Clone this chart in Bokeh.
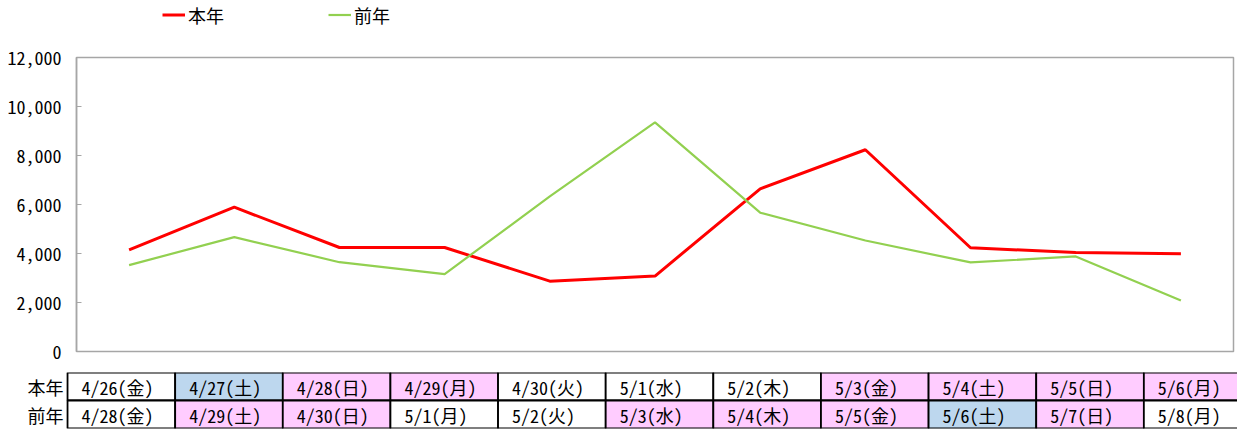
from bokeh.plotting import figure
from bokeh.models import (ColumnDataSource, FactorRange, Range1d, Legend, LegendItem,
                          NumeralTickFormatter, FixedTicker)
from bokeh.layouts import column
from bokeh.embed import file_html
from bokeh.resources import INLINE
from bokeh.core.properties import value

FONT = "'Noto Sans Mono CJK JP', 'Noto Sans CJK JP', sans-serif"

# ---- data ----
dates_this = ["4/26(金)", "4/27(土)", "4/28(日)", "4/29(月)", "4/30(火)", "5/1(水)",
              "5/2(木)", "5/3(金)", "5/4(土)", "5/5(日)", "5/6(月)"]
dates_prev = ["4/28(金)", "4/29(土)", "4/30(日)", "5/1(月)", "5/2(火)", "5/3(水)",
              "5/4(木)", "5/5(金)", "5/6(土)", "5/7(日)", "5/8(月)"]
this_year = [4150, 5890, 4245, 4245, 2870, 3080, 6640, 8235, 4235, 4040, 3990]
prev_year = [3525, 4670, 3645, 3160, 6330, 9350, 5665, 4530, 3635, 3880, 2080]
# day types: "w" weekday, "s" saturday, "h" holiday / sunday
type_this = ["w", "s", "h", "h", "w", "w", "w", "h", "h", "h", "h"]
type_prev = ["w", "h", "h", "w", "w", "h", "h", "h", "s", "h", "w"]
row_names = ["本年", "前年"]
series_names = ["本年", "前年"]
y_ticks = [0, 2000, 4000, 6000, 8000, 10000, 12000]

TYPE_COLOR = {"w": "#FFFFFF", "s": "#BDD7EE", "h": "#FFCCFF"}
GRAY = "#A6A6A6"
RED = "#FF0000"
GREEN = "#92D050"
NAN = float("nan")

# ---- legend strip ----
lg = figure(width=1237, height=40, x_range=Range1d(0, 1), y_range=Range1d(0, 1),
            output_backend="svg", toolbar_location=None,
            min_border_left=0, min_border_right=0, min_border_top=0, min_border_bottom=0)
lg.frame_align = False
lg.axis.visible = False
lg.grid.visible = False
lg.outline_line_color = None
k_this = lg.line(x=[NAN, NAN], y=[NAN, NAN], line_color=RED, line_width=3)
k_prev = lg.line(x=[NAN, NAN], y=[NAN, NAN], line_color=GREEN, line_width=2.2)
legend = Legend(items=[LegendItem(label=series_names[0], renderers=[k_this]),
                       LegendItem(label=series_names[1], renderers=[k_prev])],
                orientation="horizontal", location=(162, 11),
                padding=0, margin=0, spacing=104,
                glyph_width=23, glyph_height=29, label_height=29, label_standoff=3,
                border_line_color=None, background_fill_alpha=0,
                label_text_font=FONT, label_text_font_size="18px",
                label_text_color="#000000")
lg.add_layout(legend)

# ---- chart ----
p = figure(width=1237, height=330,
           x_range=FactorRange(*dates_this, range_padding=0, factor_padding=0),
           y_range=Range1d(0, 12000),
           output_backend="svg", toolbar_location=None,
           min_border_left=76, min_border_right=4, min_border_top=17, min_border_bottom=19)
p.frame_align = False

src = ColumnDataSource(dict(x=dates_this, this=this_year, prev=prev_year))
p.line(x="x", y="this", source=src, line_color=RED, line_width=3)
p.line(x="x", y="prev", source=src, line_color=GREEN, line_width=2.2)

p.xaxis.visible = False
p.grid.visible = False
p.outline_line_color = GRAY
p.outline_line_width = 1.5

yax = p.yaxis[0]
yax.ticker = FixedTicker(ticks=y_ticks)
yax.formatter = NumeralTickFormatter(format="0,0")
yax.major_label_text_font = FONT
yax.major_label_text_font_size = "18px"
yax.major_label_text_color = "#000000"
yax.major_tick_in = 5
yax.major_tick_out = 0
yax.minor_tick_in = 0
yax.minor_tick_out = 0
yax.axis_line_color = GRAY
yax.axis_line_width = 1.5
yax.major_tick_line_color = GRAY
yax.major_label_standoff = 15

# ---- table ----
n = len(dates_this)
t = figure(width=1237, height=59,
           x_range=Range1d(-0.437, 10.87),
           y_range=FactorRange(*reversed(row_names)),
           output_backend="svg", toolbar_location=None,
           min_border_left=20, min_border_right=0, min_border_top=2, min_border_bottom=1)
t.frame_align = False

xs, ys, fills, texts = [], [], [], []
for name, dates, types in [(row_names[0], dates_this, type_this),
                           (row_names[1], dates_prev, type_prev)]:
    for i in range(n):
        xs.append(i)
        ys.append(name)
        fills.append(TYPE_COLOR[types[i]])
        texts.append(dates[i])

tsrc = ColumnDataSource(dict(x=xs, xc=[v + 0.5 for v in xs], y=ys, fill=fills, text=texts))
t.rect(x="xc", y="y", width=1, height=1, source=tsrc, fill_color="fill",
       line_color="#000000", line_width=1.8)
t.text(x="x", y="y", text="text", source=tsrc, x_offset=14,
       text_align="left", text_baseline="middle",
       text_font=value(FONT), text_font_size="18px", text_color="#000000")

lsrc = ColumnDataSource(dict(x=[0] * len(row_names), y=row_names, text=row_names))
t.text(x="x", y="y", text="text", source=lsrc, x_offset=-4,
       text_align="right", text_baseline="middle",
       text_font=value(FONT), text_font_size="18px", text_color="#000000")

t.xaxis.visible = False
t.yaxis.visible = False
t.grid.visible = False
t.outline_line_color = None

layout = column(lg, p, t, spacing=0)
open("out.html", "w").write(file_html(layout, INLINE))
